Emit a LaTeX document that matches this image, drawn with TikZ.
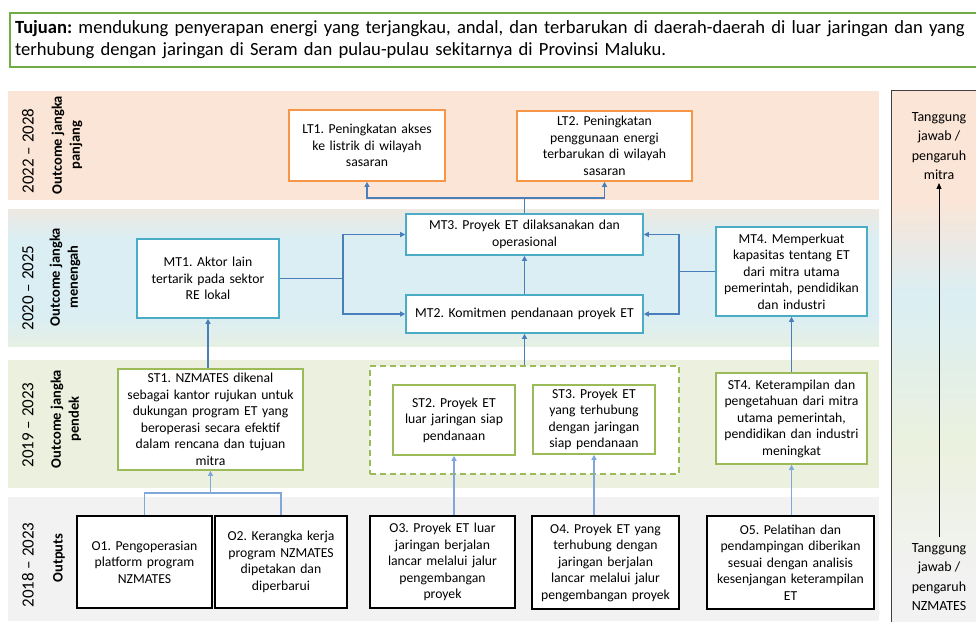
\documentclass[tikz,border=0pt]{standalone}
\usepackage{fontspec}
\setmainfont{Carlito}
\usepackage{tikz}
\usetikzlibrary{arrows.meta,positioning,calc}
\definecolor{ltOrange}  {RGB}{247, 150,  70}
\definecolor{mtAqua}    {RGB}{ 75, 172, 198}
\definecolor{stGreen}   {RGB}{155, 187,  89}
\definecolor{goalGreen} {RGB}{112, 173,  71}
\definecolor{lnBlue}    {RGB}{ 74, 126, 187}
\definecolor{lnLight}   {RGB}{127, 167, 217}
\definecolor{bandPeach} {RGB}{251, 229, 214}
\definecolor{bandBlue}  {RGB}{218, 238, 243}
\definecolor{bandGreen} {RGB}{235, 241, 222}
\definecolor{bandGray}  {RGB}{242, 242, 242}
\colorlet{mixPB}{bandPeach!60!bandBlue}
\colorlet{mixGB}{bandGreen!70!bandBlue}
\pgfdeclareverticalshading{midshade}{100bp}{color(0bp)=(mixGB); color(25bp)=(mixGB);
  color(36bp)=(bandBlue); color(64bp)=(bandBlue); color(75bp)=(mixPB); color(100bp)=(mixPB)}
\pgfdeclareverticalshading{sideshade}{100bp}{color(0bp)=(bandGray); color(30bp)=(bandGray);
  color(42bp)=(bandGreen); color(56bp)=(bandBlue); color(65bp)=(bandPeach); color(100bp)=(bandPeach)}
\frenchspacing

\begin{document}
\begin{tikzpicture}[x=1pt,y=-1pt,
    box/.style 2 args={draw,fill=white,line width=1.6pt,align=center,inner sep=0pt,
      minimum width=#1pt,text width=#1pt,minimum height=#2pt,
      font=\fontsize{13.7}{16.5}\selectfont},
    ltbox/.style 2 args={box={#1}{#2},draw=ltOrange},
    mtbox/.style 2 args={box={#1}{#2},draw=mtAqua},
    stbox/.style 2 args={box={#1}{#2},draw=stGreen},
    obox/.style 2 args={box={#1}{#2},draw=black,line width=1.8pt},
    yearlbl/.style={rotate=90,inner sep=0pt,font=\fontsize{17}{20}\selectfont},
    rowlbl/.style={rotate=90,inner sep=0pt,align=center,font=\bfseries\fontsize{14.5}{18}\selectfont},
    resp/.style={align=center,inner sep=0pt,font=\fontsize{14}{19.5}\selectfont},
    link/.style={lnBlue,line width=1.2pt,-{Triangle[length=5pt,width=5pt]}},
    linkLt/.style={lnLight,line width=1.2pt,-{Triangle[length=5pt,width=5pt]}}]

    \useasboundingbox (0,0) rectangle (976,621);

    % ── faixas ───────────────────────────────────────────
    \fill[bandPeach] (8,91) rectangle (879,200);
    \shade[shading=midshade] (8,209) rectangle (879,346);
    \fill[bandGreen] (8,360) rectangle (879,488);
    \fill[bandGray] (8,497) rectangle (879,621);
    \shadedraw[shading=sideshade,draw=black!75,line width=0.8pt] (891,90) rectangle (990,630);

    % ── tujuan ───────────────────────────────────────────
    \node[draw=goalGreen,line width=2pt,anchor=north west,text width=975pt,
          inner xsep=5pt,inner ysep=0pt,minimum height=54pt,align=left,
          font=\fontsize{18.6}{22}\selectfont] (goal) at (9,12)
          {\textbf{Tujuan:} mendukung penyerapan energi yang terjangkau, andal, dan terbarukan di daerah-daerah di luar jaringan dan yang\\
           terhubung dengan jaringan di Seram dan pulau-pulau sekitarnya di Provinsi Maluku.};

    % ── label baris ──────────────────────────────────────
    \node[yearlbl] (yLT) at (28,151){2022 – 2028};
    \node[rowlbl]  (rLT) at (67,145){Outcome jangka\\panjang};
    \node[yearlbl] (yMT) at (28,288){2020 – 2025};
    \node[rowlbl]  (rMT) at (65,277){Outcome jangka\\menengah};
    \node[yearlbl] (yST) at (28,425){2019 – 2023};
    \node[rowlbl]  (rST) at (66,419){Outcome jangka\\pendek};
    \node[yearlbl] (yO)  at (28,565){2018 – 2023};
    \node[rowlbl]  (rO)  at (59,558){Outputs};

    % ── jangka panjang ───────────────────────────────────
    \node[ltbox={156}{71}] (LT1) at (367,145.5){LT1. Peningkatan akses\\ke listrik di wilayah\\sasaran};
    \node[ltbox={175}{70}] (LT2) at (604.5,146){LT2. Peningkatan\\penggunaan energi\\terbarukan di wilayah\\sasaran};

    % ── jangka menengah ──────────────────────────────────
    \node[mtbox={237}{41}] (MT3) at (524.5,234.5){MT3. Proyek ET dilaksanakan dan\\operasional};
    \node[mtbox={237}{38}] (MT2) at (524.5,314){MT2. Komitmen pendanaan proyek ET};
    \node[mtbox={142}{79}] (MT1) at (208,278.5){MT1. Aktor lain\\tertarik pada sektor\\RE lokal};
    \node[mtbox={151}{89}] (MT4) at (791.5,271.5){MT4. Memperkuat\\kapasitas tentang ET\\dari mitra utama\\pemerintah, pendidikan\\dan industri};

    % ── jangka pendek ────────────────────────────────────
    \node[draw=stGreen,line width=1.5pt,dash pattern=on 6pt off 4pt,fill=white,
          minimum width=309pt,minimum height=108pt,inner sep=0pt] (grp) at (524.5,420){};
    \node[stbox={185}{101}] (ST1) at (210.5,419.5){ST1. NZMATES dikenal\\sebagai kantor rujukan untuk\\dukungan program ET yang\\beroperasi secara efektif\\dalam rencana dan tujuan\\mitra};
    \node[stbox={122}{70}] (ST2) at (454,420){ST2. Proyek ET\\luar jaringan siap\\pendanaan};
    \node[stbox={122}{69}] (ST3) at (594,419.5){ST3. Proyek ET\\yang terhubung\\dengan jaringan\\siap pendanaan};
    \node[stbox={151}{91}] (ST4) at (791.5,418.5){ST4. Keterampilan dan\\pengetahuan dari mitra\\utama pemerintah,\\pendidikan dan industri\\meningkat};

    % ── outputs ──────────────────────────────────────────
    \node[obox={135}{92}] (O1) at (144.5,562){O1. Pengoperasian\\platform program\\NZMATES};
    \node[obox={132}{92}] (O2) at (281,562){O2. Kerangka kerja\\program NZMATES\\dipetakan dan\\diperbarui};
    \node[obox={145}{92}] (O3) at (442.5,562){O3. Proyek ET luar\\jaringan berjalan\\lancar melalui jalur\\pengembangan\\proyek};
    \node[obox={147}{93}] (O4) at (605.5,562.5){O4. Proyek ET yang\\terhubung dengan\\jaringan berjalan\\lancar melalui jalur\\pengembangan proyek};
    \node[obox={167}{93}] (O5) at (790.5,562.5){O5. Pelatihan dan\\pendampingan diberikan\\sesuai dengan analisis\\kesenjangan keterampilan\\ET};

    % ── tanggung jawab ───────────────────────────────────
    \node[resp] (respTop) at (939,146){Tanggung\\jawab /\\pengaruh\\mitra};
    \node[resp] (respBot) at (939,577){Tanggung\\jawab /\\pengaruh\\NZMATES};
    \draw[black,line width=0.9pt,-{Triangle[length=6pt,width=5pt]},shorten <=6pt,shorten >=3pt]
      (respBot.north) -- (respTop.south);

    % ── panah ────────────────────────────────────────────
    \coordinate (oj)   at (210.5,493);
    \coordinate (ltj)  at (524.5,198);
    \coordinate (mtjl) at (343,278.5);
    \coordinate (mtjr) at (679,271.5);
    \draw[lnLight,line width=1.2pt] (O1.north) |- (oj) -| (O2.north);
    \draw[linkLt] (oj) -- (ST1.south);
    \foreach \s/\t in {O3/ST2,O4/ST3,O5/ST4}{\draw[linkLt] (\t.south |- \s.north) -- (\t.south);}
    \draw[link] (ST1.north -| MT1.south) -- (MT1.south);
    \draw[link] (grp.north) -- (MT2.south);
    \draw[link] (ST4.north) -- (MT4.south);
    \draw[lnBlue,line width=1.2pt] (MT1.east) -- (mtjl);
    \draw[lnBlue,line width=1.2pt] (MT4.west) -- (mtjr);
    \foreach \t in {MT3,MT2}{\draw[link] (mtjl) |- (\t.west); \draw[link] (mtjr) |- (\t.east);}
    \draw[link] (MT2.north) -- (MT3.south);
    \draw[lnBlue,line width=1.2pt] (MT3.north) -- (ltj);
    \foreach \t in {LT1,LT2}{\draw[link] (ltj) -| (\t.south);}

\end{tikzpicture}
\end{document}
